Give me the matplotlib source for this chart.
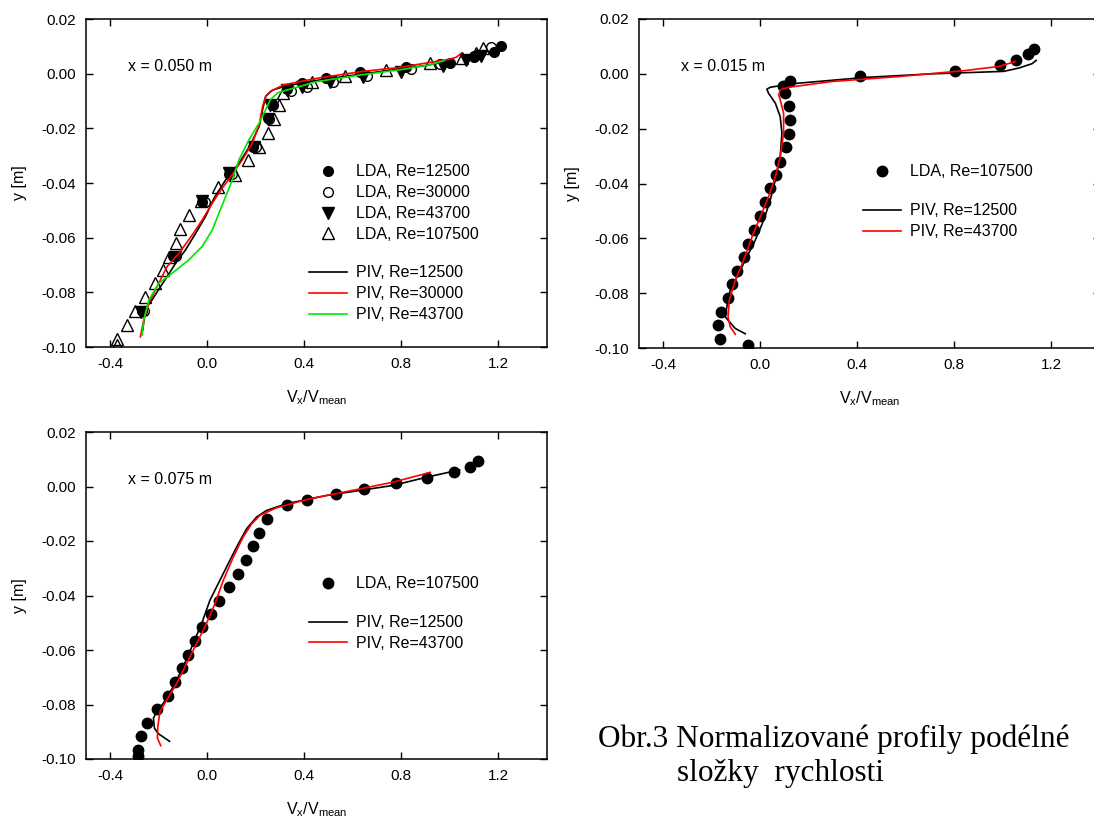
import matplotlib
matplotlib.use("Agg")
import matplotlib.pyplot as plt

plt.rcParams["font.family"] = ["Liberation Sans", "DejaVu Sans"]
plt.rcParams["axes.unicode_minus"] = False
plt.rcParams["mathtext.default"] = "regular"

# x = 0.050 m
lda1_12500_x = [-0.27, -0.14, -0.02, 0.09, 0.19, 0.25, 0.265, 0.33, 0.39, 0.49, 0.63, 0.82, 1.00, 1.10, 1.18, 1.21]
lda1_12500_y = [-0.0870, -0.0667, -0.0468, -0.0367, -0.0267, -0.0163, -0.0114, -0.0057, -0.0035, -0.0017, 0.0005, 0.0023, 0.0040, 0.0062, 0.0080, 0.0102]
lda1_30000_x = [-0.26, -0.13, -0.01, 0.10, 0.20, 0.255, 0.27, 0.345, 0.41, 0.52, 0.66, 0.84, 0.96, 1.10, 1.17]
lda1_30000_y = [-0.0870, -0.0667, -0.0468, -0.0367, -0.0267, -0.0165, -0.0115, -0.0064, -0.0047, -0.0029, -0.0010, 0.0018, 0.0036, 0.0065, 0.0098]
lda1_43700_x = [-0.272, -0.134, -0.021, 0.090, 0.193, 0.252, 0.259, 0.330, 0.389, 0.506, 0.643, 0.80, 0.97, 1.068, 1.13]
lda1_43700_y = [-0.0871, -0.0669, -0.0467, -0.0363, -0.0268, -0.0165, -0.0116, -0.0060, -0.0047, -0.0029, -0.0011, 0.0007, 0.0028, 0.0050, 0.0066]
lda1_107500_x = [-0.372, -0.372, -0.331, -0.297, -0.258, -0.217, -0.183, -0.156, -0.131, -0.114, -0.076, -0.028, 0.044, 0.114,
                 0.166, 0.214, 0.251, 0.276, 0.296, 0.311, 0.43, 0.567, 0.736, 0.917, 1.05, 1.106, 1.136]
lda1_107500_y = [-0.0993, -0.0969, -0.0920, -0.0867, -0.0818, -0.0767, -0.0718, -0.0669, -0.0618, -0.0569, -0.0516, -0.0467, -0.0416, -0.0369,
                 -0.0317, -0.0268, -0.0217, -0.0165, -0.0116, -0.0072, -0.0029, -0.0008, 0.0014, 0.0038, 0.0057, 0.0075, 0.0093]
piv1_12500_x = [-0.266, -0.255, -0.228, -0.193, -0.166, -0.131, -0.090, -0.048, -0.007, 0.028, 0.076, 0.131, 0.179, 0.214, 0.228, 0.241,
                0.269, 0.324, 0.434, 0.572, 0.75, 0.90, 0.985]
piv1_12500_y = [-0.0938, -0.0859, -0.0828, -0.0779, -0.0743, -0.0694, -0.0645, -0.0584, -0.0522, -0.0455, -0.0388, -0.0327, -0.0259, -0.0192, -0.0131, -0.0082,
                -0.0060, -0.0045, -0.0027, -0.0009, 0.0012, 0.0030, 0.0044]
piv1_30000_x = [-0.276, -0.262, -0.241, -0.207, -0.166, -0.117, -0.062, -0.021, 0.021, 0.062, 0.103, 0.145, 0.186, 0.214, 0.228, 0.241,
                0.262, 0.314, 0.451, 0.629, 0.793, 0.999, 1.026, 1.047]
piv1_30000_y = [-0.0963, -0.0901, -0.0840, -0.0779, -0.0706, -0.0657, -0.0590, -0.0535, -0.0473, -0.0418, -0.0369, -0.0314, -0.0253, -0.0186, -0.0119, -0.0082,
                -0.0064, -0.0041, -0.0017, 0.0007, 0.0023, 0.0053, 0.0060, 0.0075]
piv1_43700_x = [-0.269, -0.262, -0.241, -0.200, -0.145, -0.076, -0.021, 0.021, 0.048, 0.076, 0.103, 0.131, 0.172, 0.214, 0.241, 0.259,
                0.290, 0.328, 0.451, 0.629, 0.793, 0.917, 0.978]
piv1_43700_y = [-0.0957, -0.0901, -0.0828, -0.0767, -0.0730, -0.0681, -0.0632, -0.0571, -0.0510, -0.0449, -0.0388, -0.0314, -0.0241, -0.0180, -0.0131, -0.0096,
                -0.0070, -0.0060, -0.0029, -0.0005, 0.0014, 0.0032, 0.0048]

# x = 0.015 m
lda2_x = [1.127, 1.102, 1.052, 0.987, 0.804, 0.410, 0.124, 0.092, 0.103, 0.117, 0.124, 0.117, 0.106, 0.080, 0.065, 0.038, 0.021,
          -0.003, -0.025, -0.052, -0.069, -0.096, -0.117, -0.133, -0.162, -0.176, -0.165, -0.052]
lda2_y = [0.0091, 0.0072, 0.0051, 0.0033, 0.0012, -0.0007, -0.0026, -0.0046, -0.0071, -0.0119, -0.0168, -0.0220, -0.0268, -0.0320, -0.0369, -0.0418, -0.0466,
          -0.0519, -0.0568, -0.0619, -0.0667, -0.0719, -0.0767, -0.0817, -0.0868, -0.0917, -0.0968, -0.0990]
piv2_12500_x = [-0.062, -0.103, -0.144, -0.137, -0.124, -0.089, -0.055, -0.021, 0.014, 0.041, 0.062, 0.082, 0.089, 0.082, 0.062, 0.034,
                0.027, 0.041, 0.076, 0.158, 0.433, 0.708, 1.003, 1.065, 1.120, 1.137]
piv2_12500_y = [-0.0948, -0.0929, -0.0887, -0.0844, -0.0789, -0.0728, -0.0667, -0.0607, -0.0534, -0.0460, -0.0387, -0.0302, -0.0217, -0.0156, -0.0107, -0.0071,
                -0.0056, -0.0049, -0.0044, -0.0034, -0.0013, 0.0000, 0.0009, 0.0021, 0.0037, 0.0049]
piv2_43700_x = [-0.103, -0.124, -0.133, -0.128, -0.103, -0.069, -0.034, 0.000, 0.034, 0.062, 0.082, 0.096, 0.096, 0.082, 0.076, 0.082,
                0.117, 0.296, 0.570, 0.845, 0.983, 1.052]
piv2_43700_y = [-0.0950, -0.0923, -0.0887, -0.0826, -0.0753, -0.0680, -0.0594, -0.0521, -0.0448, -0.0375, -0.0302, -0.0217, -0.0144, -0.0095, -0.0077, -0.0058,
                -0.0049, -0.0028, -0.0010, 0.0012, 0.0027, 0.0045]

# x = 0.075 m
lda3_x = [1.117, 1.084, 1.017, 0.906, 0.779, 0.646, 0.530, 0.409, 0.329, 0.244, 0.214, 0.189, 0.159, 0.125, 0.089, 0.049, 0.014,
          -0.021, -0.051, -0.078, -0.103, -0.133, -0.161, -0.206, -0.247, -0.274, -0.284, -0.287]
lda3_y = [0.0093, 0.0071, 0.0052, 0.0032, 0.0012, -0.0009, -0.0027, -0.0049, -0.0067, -0.0118, -0.0170, -0.0220, -0.0268, -0.0320, -0.0368, -0.0420, -0.0468,
          -0.0517, -0.0567, -0.0618, -0.0667, -0.0718, -0.0767, -0.0817, -0.0868, -0.0917, -0.0968, -0.0990]
piv3_12500_x = [-0.156, -0.202, -0.218, -0.222, -0.209, -0.181, -0.140, -0.099, -0.058, -0.023, 0.011, 0.052, 0.093, 0.128, 0.162, 0.203,
                0.244, 0.327, 0.491, 0.766, 0.903, 1.040]
piv3_12500_y = [-0.0935, -0.0907, -0.0887, -0.0850, -0.0826, -0.0795, -0.0734, -0.0661, -0.0576, -0.0502, -0.0417, -0.0344, -0.0271, -0.0210, -0.0155, -0.0112,
                -0.0088, -0.0063, -0.0033, 0.0004, 0.0034, 0.0061]
piv3_43700_x = [-0.192, -0.206, -0.204, -0.195, -0.167, -0.126, -0.085, -0.044, -0.003, 0.032, 0.066, 0.107, 0.148, 0.183, 0.217, 0.285,
                0.423, 0.628, 0.766, 0.919]
piv3_43700_y = [-0.0951, -0.0923, -0.0881, -0.0826, -0.0783, -0.0722, -0.0649, -0.0576, -0.0502, -0.0429, -0.0344, -0.0259, -0.0185, -0.0137, -0.0106, -0.0078,
                -0.0045, -0.0009, 0.0016, 0.0052]

xticks = [-0.4, 0.0, 0.4, 0.8, 1.2]
yticks = [-0.10, -0.08, -0.06, -0.04, -0.02, 0.00, 0.02]

W, H = 1094, 823
FS = 11.5


def px_axes(fig, left, top, right, bottom):
    return fig.add_axes([left / W, 1 - bottom / H, (right - left) / W, (bottom - top) / H])


def style_axes(ax, label):
    ax.set_xlim(-0.5, 1.4)
    ax.set_ylim(-0.10, 0.02)
    ax.set_xticks(xticks)
    ax.set_yticks(yticks)
    ax.set_xticklabels(["%.1f" % v for v in xticks])
    ax.set_yticklabels(["%.2f" % v for v in yticks])
    ax.tick_params(direction="in", top=True, right=True, length=5, width=1, labelsize=11, pad=7)
    for s in ax.spines.values():
        s.set_linewidth(1.1)
    ax.set_xlabel(r"$V_x/V_{mean}$", fontsize=FS)
    ax.set_ylabel("y [m]", fontsize=FS)
    ax.xaxis.set_label_coords(0.5, -0.125)
    ax.yaxis.set_label_coords(-0.127, 0.5)
    ax.text(0.092, 0.855, label, transform=ax.transAxes, va="center", fontsize=FS)


def add_legends(ax, lda_handles, piv_handles, x0, y_lda, y_piv):
    opts = dict(loc="upper left", frameon=False, fontsize=FS, borderpad=0, borderaxespad=0,
                handlelength=2.4, handletextpad=0.55, labelspacing=0.37)
    leg = ax.legend(handles=lda_handles, bbox_to_anchor=(x0, y_lda), **opts)
    ax.add_artist(leg)
    ax.legend(handles=piv_handles, bbox_to_anchor=(x0, y_piv), **opts)


fig = plt.figure(figsize=(W / 100, H / 100), dpi=100)

# panel x = 0.050 m
ax1 = px_axes(fig, 86, 19, 547, 347)
h1, = ax1.plot(lda1_12500_x, lda1_12500_y, "o", color="black", ms=7, ls="none", label="LDA, Re=12500")
h2, = ax1.plot(lda1_30000_x, lda1_30000_y, "o", mfc="none", mec="black", ms=7, mew=1, ls="none", label="LDA, Re=30000")
h3, = ax1.plot(lda1_43700_x, lda1_43700_y, "v", color="black", ms=8, ls="none", label="LDA, Re=43700")
h4, = ax1.plot(lda1_107500_x, lda1_107500_y, "^", mfc="none", mec="black", ms=8.5, mew=1, ls="none", label="LDA, Re=107500")
l1, = ax1.plot(piv1_12500_x, piv1_12500_y, color="black", lw=1.2, label="PIV, Re=12500")
l2, = ax1.plot(piv1_30000_x, piv1_30000_y, color="#ff0000", lw=1.2, label="PIV, Re=30000")
l3, = ax1.plot(piv1_43700_x, piv1_43700_y, color="#00e600", lw=1.2, label="PIV, Re=43700")
style_axes(ax1, "x = 0.050 m")
add_legends(ax1, [h1, h2, h3, h4], [l1, l2, l3], 0.4837, 0.557, 0.249)

# panel x = 0.015 m
ax2 = px_axes(fig, 639, 19, 1100, 348)
h, = ax2.plot(lda2_x, lda2_y, "o", color="black", ms=7.5, ls="none", label="LDA, Re=107500")
l1, = ax2.plot(piv2_12500_x, piv2_12500_y, color="black", lw=1.2, label="PIV, Re=12500")
l2, = ax2.plot(piv2_43700_x, piv2_43700_y, color="#ff0000", lw=1.2, label="PIV, Re=43700")
style_axes(ax2, "x = 0.015 m")
add_legends(ax2, [h], [l1, l2], 0.486, 0.558, 0.440)

# panel x = 0.075 m
ax3 = px_axes(fig, 86, 432, 547, 759)
h, = ax3.plot(lda3_x, lda3_y, "o", color="black", ms=7.5, ls="none", label="LDA, Re=107500")
l1, = ax3.plot(piv3_12500_x, piv3_12500_y, color="black", lw=1.2, label="PIV, Re=12500")
l2, = ax3.plot(piv3_43700_x, piv3_43700_y, color="#ff0000", lw=1.2, label="PIV, Re=43700")
style_axes(ax3, "x = 0.075 m")
add_legends(ax3, [h], [l1, l2], 0.4837, 0.559, 0.440)

fig.text(598 / W, 1 - 747 / H, "Obr.3 Normalizované profily podélné", fontsize=22.5,
         family="Liberation Serif", va="baseline")
fig.text(677 / W, 1 - 781 / H, "složky  rychlosti", fontsize=22.5,
         family="Liberation Serif", va="baseline")

fig.savefig("out.png", dpi=100)
